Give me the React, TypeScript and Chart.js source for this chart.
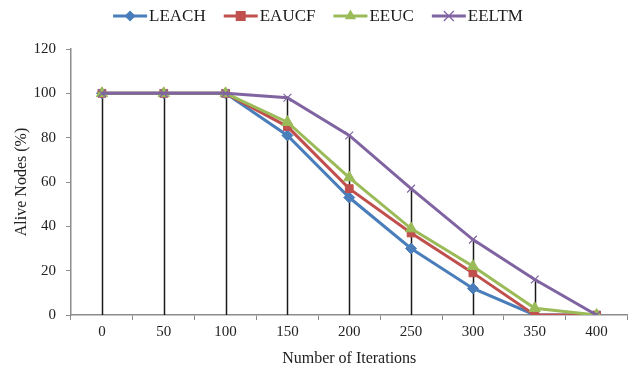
import React, { useEffect, useRef } from "react";
import { Chart, registerables } from "chart.js";

Chart.register(...registerables);

const iterations = ["0", "50", "100", "150", "200", "250", "300", "350", "400"];
const leach = [100, 100, 100, 81, 53, 30, 12, 0, 0];
const eaucf = [100, 100, 100, 85, 57, 37, 19, 0, 0];
const eeuc = [100, 100, 100, 87, 62, 39, 22, 3, 0];
const eeltm = [100, 100, 100, 98, 81, 57, 34, 16, 0];

const seriesNames = ["LEACH", "EAUCF", "EEUC", "EELTM"];
const seriesColors = ["#4A7EBB", "#C0504D", "#9BBB59", "#8064A2"];
const seriesMarkers = ["rectRot", "rect", "triangle", "crossRot"];
const seriesValues = [leach, eaucf, eeuc, eeltm];

const SERIF = "'Liberation Serif', 'Times New Roman', serif";
const AXIS_GRAY = "#8C8C8C";

// Marker glyph used in the legend row
function drawMarker(ctx: CanvasRenderingContext2D, style: string, cx: number, cy: number, color: string) {
  ctx.save();
  ctx.fillStyle = color;
  ctx.strokeStyle = color;
  ctx.beginPath();
  if (style === "rectRot") {
    const r = 5.5;
    ctx.moveTo(cx, cy - r);
    ctx.lineTo(cx + r, cy);
    ctx.lineTo(cx, cy + r);
    ctx.lineTo(cx - r, cy);
    ctx.closePath();
    ctx.fill();
  } else if (style === "rect") {
    const s = 5;
    ctx.rect(cx - s, cy - s, s * 2, s * 2);
    ctx.fill();
  } else if (style === "triangle") {
    const r = 6.5;
    ctx.moveTo(cx, cy - r);
    ctx.lineTo(cx + r * 0.87, cy + r * 0.5);
    ctx.lineTo(cx - r * 0.87, cy + r * 0.5);
    ctx.closePath();
    ctx.fill();
  } else {
    const r = 5;
    ctx.lineWidth = 1.2;
    ctx.moveTo(cx - r, cy - r);
    ctx.lineTo(cx + r, cy + r);
    ctx.moveTo(cx + r, cy - r);
    ctx.lineTo(cx - r, cy + r);
    ctx.stroke();
  }
  ctx.restore();
}

// Vertical drop lines from the highest series value down to the category axis
const dropLines = {
  id: "dropLines",
  beforeDatasetsDraw(chart: any) {
    const { ctx, scales } = chart;
    const x = scales.x;
    const y = scales.y;
    ctx.save();
    ctx.strokeStyle = "#1a1a1a";
    ctx.lineWidth = 1.5;
    iterations.forEach((_, i) => {
      const top = Math.max(...seriesValues.map((s) => s[i]));
      if (top <= 0) return;
      const px = Math.round(x.getPixelForValue(i)) + 0.5;
      ctx.beginPath();
      ctx.moveTo(px, y.getPixelForValue(top));
      ctx.lineTo(px, y.getPixelForValue(0));
      ctx.stroke();
    });
    ctx.restore();
  },
};

// Legend row with a line segment and marker for each series
const lineLegend = {
  id: "lineLegend",
  afterDraw(chart: any) {
    const { ctx } = chart;
    ctx.save();
    ctx.font = `17px ${SERIF}`;
    const lineLen = 34;
    const gap = 2;
    const itemGap = 18;
    const widths = seriesNames.map((n) => lineLen + gap + ctx.measureText(n).width);
    const total = widths.reduce((a, b) => a + b, 0) + itemGap * (seriesNames.length - 1);
    let xPos = 318 - total / 2;
    const yPos = 16;
    seriesNames.forEach((name, i) => {
      ctx.strokeStyle = seriesColors[i];
      ctx.lineWidth = 3;
      ctx.beginPath();
      ctx.moveTo(xPos, yPos);
      ctx.lineTo(xPos + lineLen, yPos);
      ctx.stroke();
      drawMarker(ctx, seriesMarkers[i], xPos + lineLen / 2, yPos, seriesColors[i]);
      ctx.fillStyle = "#1a1a1a";
      ctx.textBaseline = "middle";
      ctx.textAlign = "left";
      ctx.fillText(name, xPos + lineLen + gap, yPos + 1);
      xPos += widths[i] + itemGap;
    });
    ctx.restore();
  },
};

export default function App() {
  const canvasRef = useRef<HTMLCanvasElement | null>(null);

  useEffect(() => {
    if (!canvasRef.current) return;
    const chart = new Chart(canvasRef.current, {
      type: "line",
      data: {
        labels: iterations,
        datasets: seriesNames.map((name, i) => ({
          label: name,
          data: seriesValues[i],
          // later series are painted over earlier ones
          order: seriesNames.length - i,
          borderColor: seriesColors[i],
          backgroundColor: seriesColors[i],
          borderWidth: 3,
          pointStyle: seriesMarkers[i] as any,
          pointRadius: seriesMarkers[i] === "triangle" ? 6.5 : 5.5,
          pointBorderWidth: seriesMarkers[i] === "crossRot" ? 1.2 : 1,
          pointBorderColor: seriesColors[i],
          pointBackgroundColor: seriesColors[i],
          tension: 0,
          fill: false,
        })),
      },
      options: {
        animation: false,
        responsive: false,
        maintainAspectRatio: false,
        layout: { padding: { top: 49, right: 6, left: 0, bottom: 0 } },
        plugins: {
          legend: { display: false },
          tooltip: { enabled: false },
        },
        scales: {
          x: {
            type: "category",
            offset: true,
            grid: {
              offset: true,
              drawOnChartArea: false,
              drawTicks: true,
              tickLength: 5,
              color: AXIS_GRAY,
            },
            border: { color: AXIS_GRAY, width: 1.5 },
            ticks: {
              color: "#222",
              font: { family: SERIF, size: 15 },
              padding: 3,
              maxRotation: 0,
            },
            title: {
              display: true,
              text: "Number of Iterations",
              color: "#222",
              font: { family: SERIF, size: 16 },
              padding: { top: 0, bottom: 5 },
            },
            afterFit(scale: any) {
              scale.height = 373 - 315;
            },
          },
          y: {
            min: 0,
            max: 120,
            ticks: {
              stepSize: 20,
              color: "#222",
              font: { family: SERIF, size: 15 },
              padding: 10,
            },
            grid: {
              drawOnChartArea: false,
              drawTicks: true,
              tickLength: 5,
              color: AXIS_GRAY,
            },
            border: { color: AXIS_GRAY, width: 1.5 },
            title: {
              display: true,
              text: "Alive Nodes (%)",
              color: "#222",
              font: { family: SERIF, size: 16 },
              padding: { top: 12, bottom: 0 },
            },
            afterFit(scale: any) {
              scale.width = 71;
            },
          },
        },
      },
      plugins: [dropLines, lineLegend],
    });
    return () => chart.destroy();
  }, []);

  return (
    <div style={{ position: "fixed", left: 0, top: 0, width: 635, height: 373, background: "#fff" }}>
      <canvas ref={canvasRef} width={635} height={373} />
    </div>
  );
}
